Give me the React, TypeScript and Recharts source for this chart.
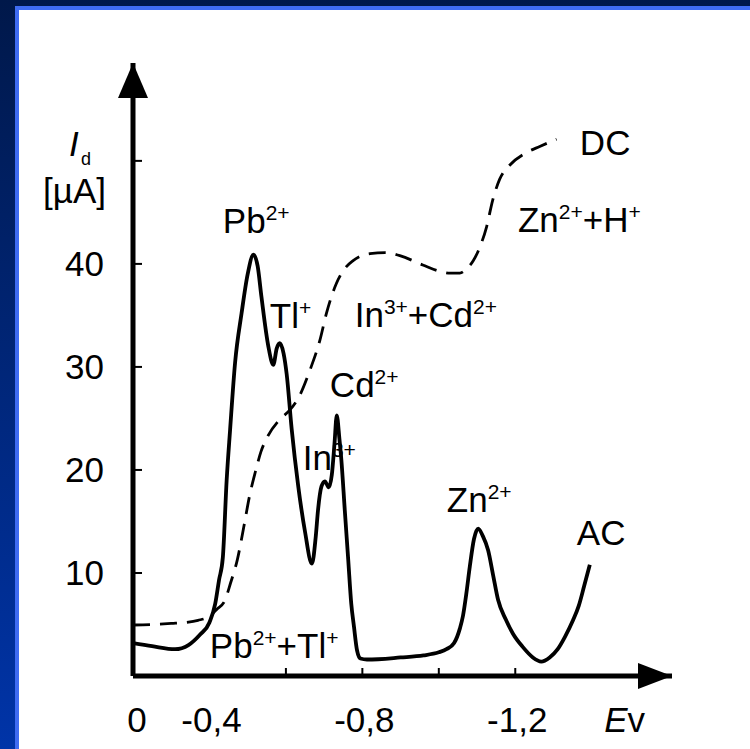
import React from 'react'
import { LineChart, Line, XAxis, YAxis, ReferenceDot } from 'recharts'

// potential (shown as |E|, axis starts at the "0" mark) and current in µA
const AC_E = [0.2, 0.25, 0.31, 0.345, 0.375, 0.4, 0.415, 0.425, 0.435, 0.445, 0.454, 0.467, 0.484, 0.5, 0.515, 0.526, 0.536, 0.554, 0.567, 0.576, 0.584, 0.594, 0.602, 0.615, 0.632, 0.65, 0.668, 0.678, 0.684, 0.693, 0.702, 0.712, 0.72, 0.727, 0.733, 0.74, 0.745, 0.754, 0.763, 0.771, 0.778, 0.786, 0.795, 0.812, 0.9, 0.96, 1.0, 1.02, 1.04, 1.055, 1.063, 1.072, 1.081, 1.092, 1.103, 1.115, 1.129, 1.142, 1.155, 1.175, 1.194, 1.22, 1.246, 1.268, 1.29, 1.311, 1.33, 1.351, 1.366, 1.38, 1.395]
const AC_I = [3.2, 2.9, 2.6, 3.0, 4.0, 5.2, 7.0, 9.3, 11.5, 19.0, 23.9, 30.4, 35.2, 39.0, 40.9, 39.8, 36.8, 32.0, 30.2, 31.8, 32.3, 31.3, 29.3, 24.0, 18.5, 14.0, 10.9, 13.5, 16.1, 18.4, 18.9, 18.3, 19.5, 22.5, 25.3, 23.0, 21.0, 16.1, 11.3, 7.0, 4.8, 2.5, 1.7, 1.6, 1.8, 2.0, 2.3, 2.6, 3.2, 4.6, 5.8, 8.0, 10.6, 13.3, 14.3, 13.6, 12.2, 9.8, 7.4, 5.5, 4.1, 2.8, 1.8, 1.4, 1.8, 2.6, 3.8, 5.4, 6.8, 8.7, 10.8]

const DC_E = [0.2, 0.25, 0.3, 0.34, 0.37, 0.4, 0.42, 0.44, 0.455, 0.473, 0.49, 0.505, 0.52, 0.535, 0.553, 0.584, 0.61, 0.637, 0.663, 0.689, 0.706, 0.732, 0.755, 0.775, 0.82, 0.86, 0.898, 0.958, 1.0, 1.029, 1.055, 1.072, 1.09, 1.107, 1.125, 1.141, 1.159, 1.186, 1.229, 1.264, 1.308]
const DC_I = [4.95, 5.0, 5.1, 5.2, 5.4, 5.8, 6.5, 7.3, 9.0, 11.3, 14.5, 17.5, 19.8, 21.8, 23.3, 24.9, 25.8, 27.3, 29.7, 32.6, 35.2, 38.1, 39.6, 40.3, 41.0, 41.1, 40.8, 39.9, 39.3, 39.1, 39.1, 39.5, 40.3, 41.6, 43.6, 46.2, 48.2, 49.6, 50.8, 51.4, 52.1]

const X_TICKS = [0.2, 0.4, 0.6, 0.8, 1.0, 1.2, 1.486]
const X_TICK_LABELS = ['0', '-0,4', '', '-0,8', '', '-1,2', 'Ev']
const X_TICK_MARKS = [0.6, 0.8, 1.0, 1.2]
const Y_TICKS = [10, 20, 30, 40, 50]
const Y_TICK_LABELS = ['10', '20', '30', '40', '']

// annotation texts: [text, superscript?]
const NOTES: { x: number; y: number; parts: [string, boolean][] }[] = [
  { x: 0.435, y: 43.0, parts: [['Pb', false], ['2+', true]] },
  { x: 0.558, y: 33.8, parts: [['Tl', false], ['+', true]] },
  { x: 0.78, y: 33.9, parts: [['In', false], ['3+', true], ['+Cd', false], ['2+', true]] },
  { x: 0.715, y: 27.1, parts: [['Cd', false], ['2+', true]] },
  { x: 0.644, y: 20.0, parts: [['In', false], ['3+', true]] },
  { x: 1.021, y: 15.9, parts: [['Zn', false], ['2+', true]] },
  { x: 1.361, y: 12.7, parts: [['AC', false]] },
  { x: 1.369, y: 50.6, parts: [['DC', false]] },
  { x: 1.207, y: 43.1, parts: [['Zn', false], ['2+', true], ['+H', false], ['+', true]] },
  { x: 0.401, y: 1.75, parts: [['Pb', false], ['2+', true], ['+Tl', false], ['+', true]] },
]

const FONT = "'Liberation Sans', Arial, Helvetica, sans-serif"
const FS = 35
const SUP = 21

const acData = AC_E.map((e, i) => ({ e, i: AC_I[i] }))
const dcData = DC_E.map((e, i) => ({ e, i: DC_I[i] }))

const Chem = ({ cx, cy, parts }: any) => {
  let up = false
  return (
    <text x={cx} y={cy} fontSize={FS} fontFamily={FONT} fill="#000">
      {parts.map(([t, sup]: [string, boolean], k: number) => {
        const dy = sup && !up ? -13 : !sup && up ? 13 : 0
        up = sup
        return (
          <tspan key={k} dy={dy} fontSize={sup ? SUP : FS}>{t}</tspan>
        )
      })}
    </text>
  )
}

const XTick = ({ x, y, payload, index }: any) => {
  const label = X_TICK_LABELS[index]
  const mark = X_TICK_MARKS.includes(payload.value)
  return (
    <g>
      {mark && <line x1={x} y1={y} x2={x} y2={y - 8} stroke="#000" strokeWidth={2} />}
      {label === 'Ev' ? (
        <text x={x} y={y + 56} textAnchor="middle" fontSize={FS} fontFamily={FONT} fill="#000">
          <tspan fontStyle="italic">E</tspan>v
        </text>
      ) : (
        <text x={index === 0 ? x + 4 : x + 2} y={y + 56} textAnchor="middle" fontSize={FS} fontFamily={FONT} fill="#000">
          {label}
        </text>
      )}
    </g>
  )
}

const YTick = ({ x, y, index }: any) => (
  <g>
    <line x1={x} y1={y} x2={x + 9} y2={y} stroke="#000" strokeWidth={2} />
    <text x={x - 29} y={y + 12} textAnchor="end" fontSize={FS} fontFamily={FONT} fill="#000">
      {Y_TICK_LABELS[index]}
    </text>
  </g>
)

const UpArrow = ({ cx, cy }: any) => (
  <path d={`M${cx},${cy} L${cx - 15},${cy + 35} L${cx + 15},${cy + 35} Z`} fill="#000" />
)

const RightArrow = ({ cx, cy }: any) => (
  <path d={`M${cx},${cy} L${cx - 34},${cy - 13} L${cx - 34},${cy + 13} Z`} fill="#000" />
)

const AxisTitle = (props: any) => {
  const vb = props.viewBox || { x: 73, width: 60 }
  const ax = vb.x + vb.width
  return (
    <g fontFamily={FONT} fill="#000">
      <text x={ax - 64} y={156} fontSize={FS} fontStyle="italic">I</text>
      <text x={ax - 52} y={165} fontSize={18}>d</text>
      <text x={ax - 90} y={203} fontSize={FS}>[µA]</text>
    </g>
  )
}

export default function App() {
  return (
    <div
      style={{
        position: 'absolute',
        left: 0,
        top: 0,
        width: 750,
        height: 749,
        overflow: 'hidden',
        background: 'linear-gradient(to bottom, #00184a, #0034a8)',
      }}
    >
      <div
        style={{
          position: 'absolute',
          left: 15,
          top: 6,
          right: 0,
          bottom: 0,
          background: '#fff',
          borderLeft: '4px solid #3f6cf2',
          borderTop: '4px solid #3f6cf2',
        }}
      />
      <div style={{ position: 'absolute', left: 0, top: 0 }}>
        <LineChart
          width={750}
          height={749}
          margin={{ top: 63, right: 78, bottom: 23, left: 73 }}
        >
          <XAxis
            dataKey="e"
            type="number"
            domain={[0.2, 1.61]}
            allowDataOverflow
            ticks={X_TICKS}
            interval={0}
            height={50}
            tickSize={0}
            tickMargin={0}
            tickLine={false}
            axisLine={{ stroke: '#000', strokeWidth: 5 }}
            tick={<XTick />}
          />
          <YAxis
            type="number"
            domain={[0, 59.5]}
            allowDataOverflow
            ticks={Y_TICKS}
            interval={0}
            width={60}
            tickSize={0}
            tickMargin={0}
            tickLine={false}
            axisLine={{ stroke: '#000', strokeWidth: 5 }}
            tick={<YTick />}
            label={{ content: (p: any) => <AxisTitle {...p} /> }}
          />
          <Line
            data={dcData}
            dataKey="i"
            type="monotone"
            stroke="#000"
            strokeWidth={2.8}
            strokeDasharray="17 10"
            dot={false}
            activeDot={false}
            isAnimationActive={false}
          />
          <Line
            data={acData}
            dataKey="i"
            type="monotone"
            stroke="#000"
            strokeWidth={3.8}
            dot={false}
            activeDot={false}
            isAnimationActive={false}
          />
          {NOTES.map((n, k) => (
            <ReferenceDot
              key={k}
              x={n.x}
              y={n.y}
              r={1}
              ifOverflow="visible"
              shape={(p: any) => <Chem cx={p.cx} cy={p.cy} parts={n.parts} />}
            />
          ))}
          <ReferenceDot x={0.2} y={59.5} r={1} ifOverflow="visible" shape={(p: any) => <UpArrow cx={p.cx} cy={p.cy} />} />
          <ReferenceDot x={1.61} y={0} r={1} ifOverflow="visible" shape={(p: any) => <RightArrow cx={p.cx} cy={p.cy} />} />
        </LineChart>
      </div>
    </div>
  )
}
